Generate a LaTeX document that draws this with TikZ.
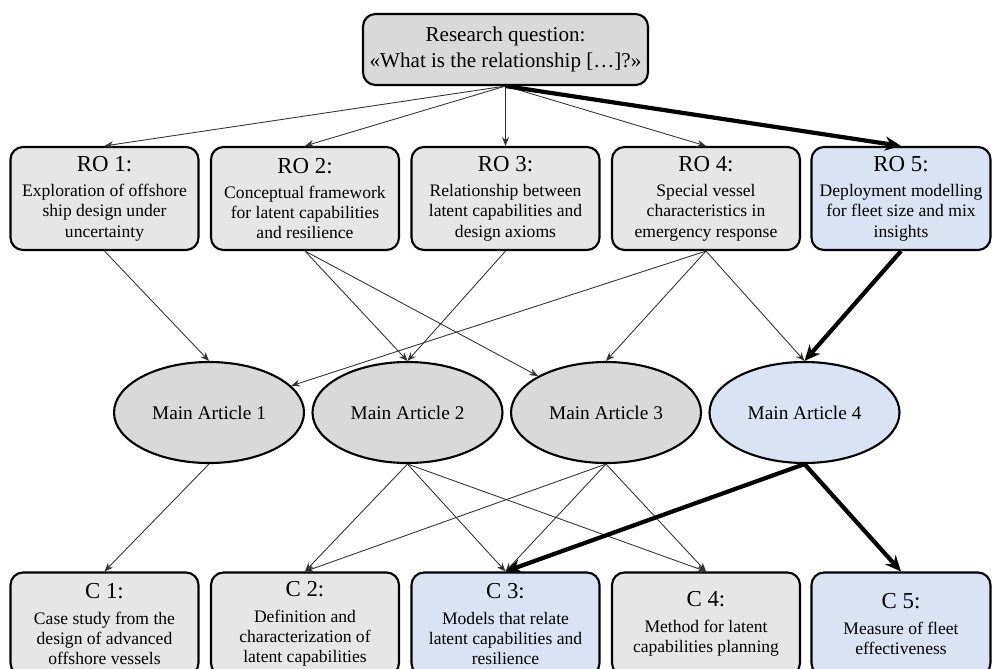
\documentclass[tikz,border=0pt]{standalone}
\usepackage{fontspec}
\setmainfont{Liberation Serif}
\usepackage{xcolor}
\usepackage{tikz}
\usetikzlibrary{arrows.meta, positioning, shapes.geometric}

\definecolor{boxgray}{HTML}{E7E6E6}
\definecolor{qgray}{HTML}{D9D9D9}
\definecolor{ablue}{HTML}{DAE3F3}

\newcommand{\boxtitle}[1]{{\fontsize{13}{15}\selectfont #1}\\[3pt]}

\begin{document}
\begin{tikzpicture}[>={Stealth[length=5pt,width=4pt]}, node distance=4cm]
		
		% Define block styles
		\tikzstyle{question} = [rectangle, rounded corners=0.25cm, draw, line width=1.2pt, fill=qgray, minimum width=5.7cm, minimum height=1.42cm, align=center, font=\fontsize{12}{14.5}\selectfont]
		\tikzstyle{objective} = [rectangle, rounded corners=0.25cm, draw, line width=1.2pt, fill=boxgray, minimum width=3.76cm, minimum height=2.06cm, inner sep=2pt, align=center, font=\fontsize{10}{11.5}\selectfont]
		\tikzstyle{objblue} = [objective, fill=ablue, minimum width=3.58cm]
		\tikzstyle{article} = [ellipse, draw, line width=1.2pt, fill=qgray, minimum width=3.8cm, minimum height=2.02cm, inner sep=0pt, font=\fontsize{11}{13}\selectfont]
		\tikzstyle{thinline} = [->, line width=0.5pt, black!80]
		\tikzstyle{thickline} = [-{Stealth[length=9pt,width=8pt]}, line width=2.4pt]
		
		\useasboundingbox (0,0) rectangle (19.86,-13.36);
		
		% Nodes
		\node[question] (rq) at (10.11,-0.99) {Research question:\\«What is the relationship […]?»};
		\node[objective, below of=rq, node distance=2.98cm] (ro3) {\boxtitle{RO 3:}Relationship between\\latent capabilities and\\design axioms};
		\node[objective, left of=ro3, node distance=4.01cm] (ro2) {\boxtitle{RO 2:}Conceptual framework\\for latent capabilities\\and resilience};
		\node[objective, left of=ro2, node distance=4.01cm] (ro1) {\boxtitle{RO 1:}Exploration of offshore\\ship design under\\uncertainty};
		\node[objective, right of=ro3, node distance=4.01cm] (ro4) {\boxtitle{RO 4:}Special vessel\\characteristics in\\emergency response};
		\node[objblue, right of=ro4, node distance=3.9cm] (ro5) {\boxtitle{RO 5:}Deployment modelling\\for fleet size and mix\\insights};
		
		\node[article] (ma1) at (4.18,-8.25) {Main Article 1};
		\node[article, right of=ma1, node distance=3.97cm] (ma2) {Main Article 2};
		\node[article, right of=ma2, node distance=3.97cm] (ma3) {Main Article 3};
		\node[article, fill=ablue, right of=ma3, node distance=3.97cm] (ma4) {Main Article 4};
		
		\node[objective, below of=ro1, node distance=8.51cm] (c1) {\boxtitle{C 1:}Case study from the\\design of advanced\\offshore vessels};
		\node[objective, below of=ro2, node distance=8.51cm] (c2) {\boxtitle{C 2:}Definition and\\characterization of\\latent capabilities};
		\node[objblue, minimum width=3.76cm, below of=ro3, node distance=8.51cm] (c3) {\boxtitle{C 3:}Models that relate\\latent capabilities and\\resilience};
		\node[objective, below of=ro4, node distance=8.51cm] (c4) {\boxtitle{C 4:}Method for latent\\capabilities planning};
		\node[objblue, below of=ro5, node distance=8.51cm] (c5) {\boxtitle{C 5:}Measure of fleet\\effectiveness};
		
		% Arrows
		\draw[thinline] (rq.south) -- (ro1.north);
		\draw[thinline] (rq.south) -- (ro2.north);
		\draw[thinline] (rq.south) -- (ro3.north);
		\draw[thinline] (rq.south) -- (ro4.north);
		\draw[thickline] (rq.south) -- (ro5.north);
		
		\draw[thinline] (ro1.south) -- (ma1.north);
		\draw[thinline] (ro2.south) -- (ma2.north);
		\draw[thinline] (ro2.south) -- (ma3);
		\draw[thinline] (ro3.south) -- (ma2.north);
		\draw[thinline] (ro4.south) -- (ma1);
		\draw[thinline] (ro4.south) -- (ma3.north);
		\draw[thinline] (ro4.south) -- (ma4.north);
		\draw[thickline] (ro5.south) -- (ma4.north);
		
		\draw[thinline] (ma1.south) -- (c1.north);
		\draw[thinline] (ma2.south) -- (c2.north);
		\draw[thinline] (ma2.south) -- (c3.north);
		\draw[thinline] (ma2.south) -- (c4.north);
		\draw[thinline] (ma3.south) -- (c2.north);
		\draw[thinline] (ma3.south) -- (c3.north);
		\draw[thinline] (ma3.south) -- (c4.north);
		\draw[thickline] (ma4.south) -- (c3.north);
		\draw[thickline] (ma4.south) -- (c5.north);
		
	\end{tikzpicture}
\end{document}
